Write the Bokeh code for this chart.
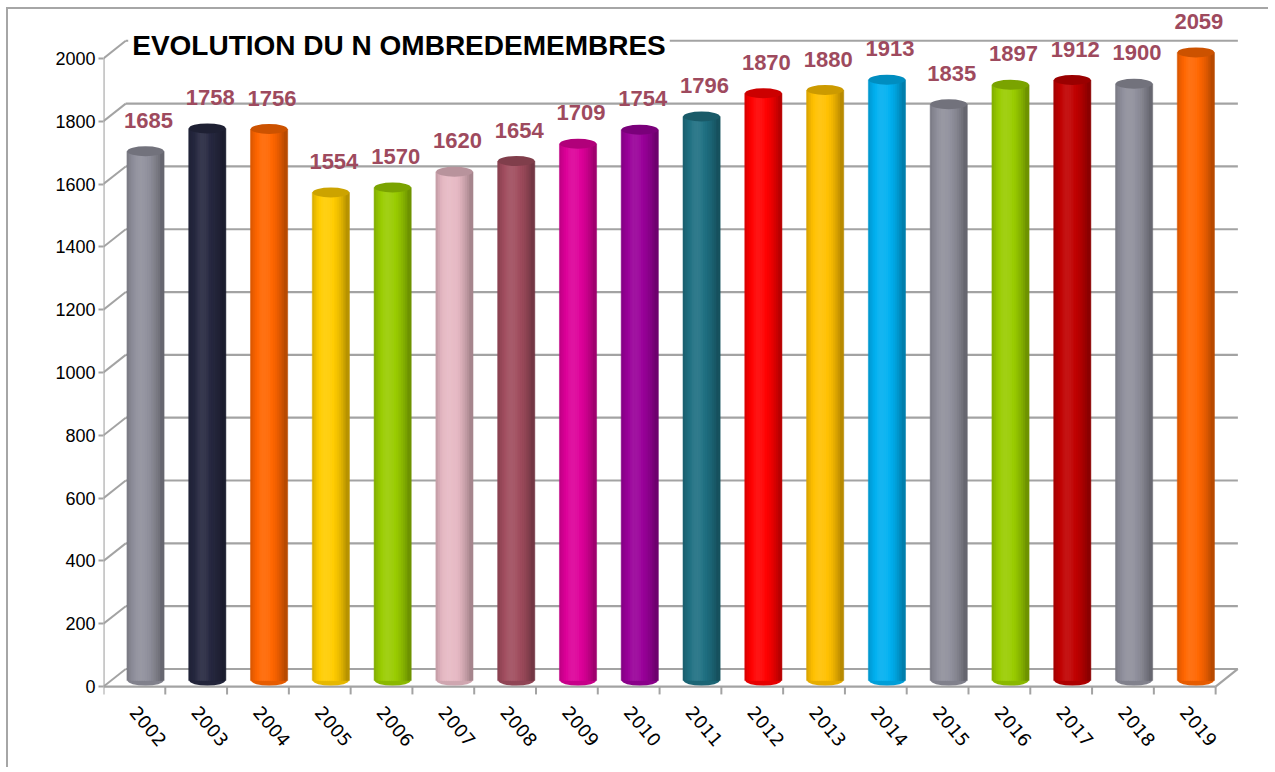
import math
from bokeh.plotting import figure
from bokeh.models import ColumnDataSource, FixedTicker, Label, Range1d
from bokeh.core.properties import value
from bokeh.embed import file_html
from bokeh.resources import INLINE

# ---- data ----
years = ["2002", "2003", "2004", "2005", "2006", "2007", "2008", "2009", "2010",
         "2011", "2012", "2013", "2014", "2015", "2016", "2017", "2018", "2019"]
members = [1685, 1758, 1756, 1554, 1570, 1620, 1654, 1709, 1754,
           1796, 1870, 1880, 1913, 1835, 1897, 1912, 1900, 2059]
bar_colors = ["#8f8f9b", "#262840", "#ff6600", "#ffcc00", "#99cc00", "#e6b8c3",
              "#a04d5e", "#dd0099", "#990099", "#1f7082", "#ff0000", "#ffc000",
              "#00b0f0", "#8f8f9b", "#99cc00", "#c00000", "#8f8f9b", "#ff6600"]
y_ticks = [0, 200, 400, 600, 800, 1000, 1200, 1400, 1600, 1800, 2000]
title_text = "EVOLUTION DU N OMBREDEMEMBRES"

# ---- style constants ----
AXIS_MAX = 2000
DEPTH_X = 0.36      # 3D depth (category units)
DEPTH_Y = 56        # 3D depth (value units)
BAR_LIFT = 19       # bars stand mid-depth
BAR_W = 0.58
K = 16              # strips for cylinder shading
TICK_LEN = 25       # x tick length (value units)
GRID = "#a3a3a3"
LABEL_COLOR = "#9e4a5e"
N = len(years)


def hex_rgb(h):
    h = h.lstrip("#")
    return tuple(int(h[j:j + 2], 16) for j in (0, 2, 4))


def shade(h, b):
    r, g, bl = hex_rgb(h)
    out = []
    for c in (r, g, bl):
        if b <= 1:
            v = c * b
        else:
            v = c + (255 - c) * (b - 1) * 1.6
        out.append(max(0, min(255, int(round(v)))))
    return "#%02x%02x%02x" % tuple(out)


def brightness(t):
    d = t - 0.38
    if d < 0:
        return 1.05 - 1.5 * d * d
    return 1.05 - 0.95 * d * d


p = figure(width=1262, height=760,
           x_range=Range1d(0, N + 0.37), y_range=Range1d(-264, 2146),
           output_backend="svg", toolbar_location=None, title=None,
           min_border_left=95, min_border_right=32,
           min_border_top=3, min_border_bottom=0)
p.styles = {"border-left": "2px solid #a6a6a6", "border-top": "2px solid #a6a6a6",
            "margin-left": "6px", "margin-top": "7px"}
p.outline_line_color = None
p.xgrid.visible = False
p.ygrid.visible = False
p.xaxis.visible = False
p.background_fill_color = "white"
p.border_fill_color = "white"

# y axis (front)
p.yaxis.ticker = FixedTicker(ticks=y_ticks)
p.yaxis.axis_line_color = None
p.yaxis.major_tick_out = 5
p.yaxis.major_tick_in = 0
p.yaxis.major_tick_line_color = GRID
p.yaxis.major_tick_line_width = 2
p.yaxis.minor_tick_line_color = None
p.yaxis.major_label_text_font = "Liberation Sans"
p.yaxis.major_label_text_font_size = "18px"
p.yaxis.major_label_text_color = "black"
p.yaxis.major_label_standoff = 3

# back wall gridlines and depth diagonals
p.segment(x0=[DEPTH_X] * len(y_ticks), x1=[N + DEPTH_X] * len(y_ticks),
          y0=[t + DEPTH_Y for t in y_ticks], y1=[t + DEPTH_Y for t in y_ticks],
          line_color=GRID, line_width=2.2)
p.segment(x0=[0] * len(y_ticks), x1=[DEPTH_X] * len(y_ticks),
          y0=y_ticks, y1=[t + DEPTH_Y for t in y_ticks],
          line_color=GRID, line_width=2)
# front axis lines and floor edge
p.segment(x0=[0, 0, N], y0=[0, 0, 0], x1=[0, N, N + DEPTH_X],
          y1=[AXIS_MAX, 0, DEPTH_Y], line_color=GRID, line_width=2.2)
# category tick marks
p.segment(x0=list(range(N + 1)), x1=list(range(N + 1)), y0=[0] * (N + 1),
          y1=[-TICK_LEN] * (N + 1), line_color=GRID, line_width=2)

# bars (cylinders)
bar_x = [i + 0.5 + DEPTH_X / 2 for i in range(N)]
bar_top = [min(v, AXIS_MAX) + BAR_LIFT for v in members]

p.ellipse(x=bar_x, y=[BAR_LIFT] * N, width=BAR_W, height=10,
          height_units="screen", fill_color=[shade(c, 0.9) for c in bar_colors],
          line_color=None)

sx, stop, scol = [], [], []
for i in range(N):
    for k in range(K):
        t = (k + 0.5) / K
        sx.append(bar_x[i] - BAR_W / 2 + t * BAR_W)
        stop.append(bar_top[i])
        scol.append(shade(bar_colors[i], brightness(t)))
strip_src = ColumnDataSource(dict(x=sx, top=stop, color=scol))
p.vbar(x="x", top="top", bottom=BAR_LIFT, width=BAR_W / K * 1.6,
       fill_color="color", line_color="color", line_width=0.5, source=strip_src)

p.ellipse(x=bar_x, y=bar_top, width=BAR_W * 1.02, height=10, height_units="screen",
          fill_color=[shade(c, 0.8) for c in bar_colors], line_color=None)

# value labels
p.text(x=bar_x, y=bar_top, text=[str(v) for v in members], x_offset=3, y_offset=-31,
       text_align="center", text_baseline="middle",
       text_font=value("Liberation Sans"), text_font_style="bold",
       text_font_size="22px", text_color=LABEL_COLOR)

# rotated year labels
p.text(x=[i + 0.5 for i in range(N)], y=[0] * N, text=years,
       x_offset=4, y_offset=18, angle=-0.87, text_align="left", text_baseline="top",
       text_font=value("DejaVu Sans"), text_font_size="18px", text_color="black")

# title
p.add_layout(Label(x=0.40, y=2041, text=title_text, text_align="left",
                   text_baseline="middle", text_font="Liberation Sans",
                   text_font_style="bold", text_font_size="28px",
                   text_color="black", background_fill_color="white", padding=4))

open("out.html", "w").write(file_html(p, INLINE))
